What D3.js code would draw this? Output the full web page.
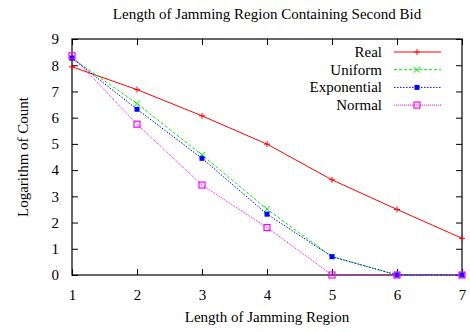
<!DOCTYPE html>
<html><head><meta charset="utf-8">
<script src="https://cdn.jsdelivr.net/npm/d3@7"></script>
<style>body{margin:0;background:#fff} text{font-family:'Liberation Serif' !important;}</style>
</head><body><svg id="c" width="470" height="332" font-family="Liberation Serif"></svg>
<script>
const xValues = [1,2,3,4,5,6,7];
const real = [7.94,7.07,6.07,4.99,3.63,2.5,1.4];
const uniform = [8.27,6.54,4.58,2.51,0.7,0,0];
const exponential = [8.27,6.32,4.45,2.32,0.7,0,0];
const normal = [8.36,5.75,3.43,1.81,0,0,0];
const yTicks = [0,1,2,3,4,5,6,7,8,9];
const seriesNames = ["Real","Uniform","Exponential","Normal"];
const seriesColors = ["#ff0000","#00ee00","#0000ff","#ff00ff"];
const seriesDash = [null,"3,2","1.5,1.5","1,1"];
const seriesMarker = ["plus","cross","fsquare","osquare"];
const seriesData = [real,uniform,exponential,normal];

const svg = d3.select("#c");
const L=72,R=462,T=39,B=275;
const x = d3.scaleLinear().domain([1,7]).range([L,R]);
const y = d3.scaleLinear().domain([0,9]).range([B,T]);

function txt(sel){ return sel.attr("font-family","Liberation Serif").attr("font-size",15).attr("fill","#000"); }

txt(svg.append("text").attr("x",267).attr("y",19).attr("text-anchor","middle").text("Length of Jamming Region Containing Second Bid"));

const gx = svg.append("g").attr("transform",`translate(0,${B})`).call(d3.axisBottom(x).tickValues(xValues).tickSize(-6).tickPadding(14).tickFormat(d3.format("d")));
const gxt = svg.append("g").attr("transform",`translate(0,${T})`).call(d3.axisTop(x).tickValues(xValues).tickSize(-6).tickFormat(""));
const gy = svg.append("g").attr("transform",`translate(${L},0)`).call(d3.axisLeft(y).tickValues(yTicks).tickSize(-6).tickPadding(13).tickFormat(d3.format("d")));
const gyr = svg.append("g").attr("transform",`translate(${R},0)`).call(d3.axisRight(y).tickValues(yTicks).tickSize(-6).tickFormat(""));
[gx,gxt,gy,gyr].forEach(g=>{g.select(".domain").remove();g.attr("font-family","Liberation Serif").attr("font-size",15);g.selectAll("line").attr("stroke","#000");txt(g.selectAll("text"));});
svg.append("rect").attr("x",L).attr("y",T).attr("width",R-L).attr("height",B-T).attr("fill","none").attr("stroke","#000").attr("stroke-width",1.2);

txt(svg.append("text").attr("x",267).attr("y",322).attr("text-anchor","middle").text("Length of Jamming Region"));
txt(svg.append("text").attr("transform","translate(28,157) rotate(-90)").attr("text-anchor","middle").text("Logarithm of Count"));

function marker(g,type,cx,cy,color){
  const s=3;
  if(type==="plus"){
    g.append("path").attr("d",`M${cx-s},${cy}H${cx+s}M${cx},${cy-s}V${cy+s}`).attr("stroke",color).attr("stroke-width",1);
  } else if(type==="cross"){
    g.append("path").attr("d",`M${cx-s},${cy-s}L${cx+s},${cy+s}M${cx-s},${cy+s}L${cx+s},${cy-s}`).attr("stroke",color).attr("stroke-width",1);
  } else if(type==="fsquare"){
    g.append("rect").attr("x",cx-2.5).attr("y",cy-2.5).attr("width",5).attr("height",5).attr("fill",color);
  } else {
    g.append("rect").attr("x",cx-3).attr("y",cy-3).attr("width",6).attr("height",6).attr("fill","none").attr("stroke",color).attr("stroke-width",1.2);
  }
}

const line = d3.line().x((d,i)=>x(xValues[i])).y(d=>y(d));
seriesData.forEach((data,k)=>{
  const g = svg.append("g");
  g.append("path").attr("d",line(data)).attr("fill","none").attr("stroke",seriesColors[k]).attr("stroke-width",1).attr("stroke-dasharray",seriesDash[k]);
  data.forEach((v,i)=>marker(g,seriesMarker[k],x(xValues[i]),y(v),seriesColors[k]));
});

seriesNames.forEach((name,k)=>{
  const ly = 52 + k*17.7;
  txt(svg.append("text").attr("x",382).attr("y",ly+5).attr("text-anchor","end").text(name));
  svg.append("line").attr("x1",394).attr("x2",441).attr("y1",ly).attr("y2",ly).attr("stroke",seriesColors[k]).attr("stroke-width",1).attr("stroke-dasharray",seriesDash[k]);
  marker(svg,seriesMarker[k],417,ly,seriesColors[k]);
});
</script></body></html>
